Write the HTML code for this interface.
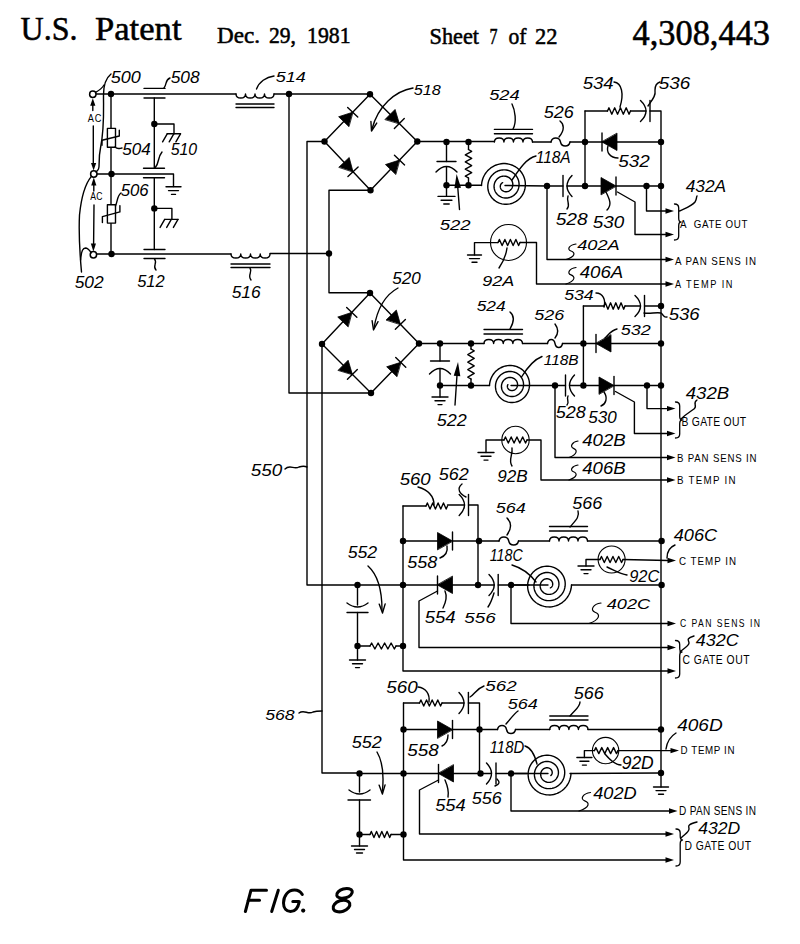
<!DOCTYPE html>
<html><head><meta charset="utf-8"><title>U.S. Patent 4,308,443 Sheet 7</title>
<style>html,body{margin:0;padding:0;background:#fff;}body{width:800px;height:944px;overflow:hidden;}svg{display:block;}</style>
</head><body>
<svg width="800" height="944" viewBox="0 0 800 944"><g fill="none" stroke="#000" stroke-width="1.4" stroke-linecap="round" stroke-linejoin="round"><path d="M96 94 L236 94"/>
<path d="M236 94 C236 99.4 245.5 99.4 245.5 94 C245.5 99.4 255 99.4 255 94 C255 99.4 264.5 99.4 264.5 94 C264.5 99.4 274 99.4 274 94"/>
<path d="M236 104 L274 104"/>
<path d="M236 107.5 L274 107.5"/>
<path d="M274 94 L370 94"/>
<circle cx="111" cy="94" r="3.2" fill="#000" stroke="none"/>
<circle cx="289" cy="94" r="3.2" fill="#000" stroke="none"/>
<path d="M97 174 L173.5 174 L173.5 186.5"/>
<path d="M166 186.8 L181 186.8"/>
<path d="M168.5 190.6 L178.5 190.6"/>
<path d="M171.5 194.4 L175.5 194.4"/>
<circle cx="111.5" cy="174" r="3.2" fill="#000" stroke="none"/>
<path d="M96.5 254 L231 254"/>
<path d="M231 254 C231 259.4 240.75 259.4 240.75 254 C240.75 259.4 250.5 259.4 250.5 254 C250.5 259.4 260.25 259.4 260.25 254 C260.25 259.4 270 259.4 270 254"/>
<path d="M231 264 L270 264"/>
<path d="M231 267.5 L270 267.5"/>
<path d="M270 253.5 L329 253.5"/>
<circle cx="111.5" cy="254" r="3.2" fill="#000" stroke="none"/>
<circle cx="329" cy="253.5" r="3.2" fill="#000" stroke="none"/>
<path d="M111 94 L111 254"/>
<rect x="107.4" y="128.4" width="8.1" height="18.8" fill="#fff"/>
<path d="M102 145.3 L102 140.3 L119.3 136 L119.3 130.3"/>
<rect x="107.4" y="204.7" width="8.1" height="18.4" fill="#fff"/>
<path d="M102.4 222.5 L102.4 216.6 L119.9 211.9 L119.9 205.6"/>
<path d="M144 88.4 L165 88.4"/>
<path d="M144 98 L165 98"/>
<path d="M154.3 98 L154.3 168.3"/>
<path d="M143.5 168.3 L164.5 168.3"/>
<path d="M143.5 177.8 L164.5 177.8"/>
<path d="M154.3 177.8 L154.3 249.5"/>
<path d="M144 249.5 L165 249.5"/>
<path d="M144 258.5 L165 258.5"/>
<circle cx="154.3" cy="124" r="3.2" fill="#000" stroke="none"/>
<path d="M154.3 124 L174 124 L174 133.8"/>
<path d="M167.2 133.8 L180.5 133.8"/>
<path d="M167.2 133.8 L162.6 141.8"/>
<path d="M173.8 133.8 L169.2 141.8"/>
<path d="M180.5 133.8 L175.9 141.8"/>
<circle cx="154.3" cy="208.4" r="3.2" fill="#000" stroke="none"/>
<path d="M154.3 208.4 L171.9 208.4 L171.9 219.4"/>
<path d="M164.7 219.4 L178 219.4"/>
<path d="M164.7 219.4 L160.1 227.4"/>
<path d="M171.3 219.4 L166.7 227.4"/>
<path d="M178 219.4 L173.4 227.4"/>
<circle cx="92.8" cy="94.3" r="3.2" fill="#fff" stroke-width="1.5"/>
<circle cx="93.8" cy="174" r="3.2" fill="#fff" stroke-width="1.5"/>
<circle cx="93.4" cy="254.7" r="3.2" fill="#fff" stroke-width="1.5"/>
<path d="M92.8 104 L92.8 110.5"/>
<path d="M93.3 126 L93.3 164"/>
<path d="M92.8 98.2 L90.2 105.7 L95.4 105.7 Z" fill="#000" stroke="none"/>
<path d="M93.6 170.6 L96.2 163.1 L91 163.1 Z" fill="#000" stroke="none"/>
<path d="M93.8 184 L93.8 191"/>
<path d="M94 205 L93.6 244"/>
<path d="M93.8 177.6 L91.2 185.6 L96.4 185.6 Z" fill="#000" stroke="none"/>
<path d="M93.4 251.6 L96 243.6 L90.8 243.6 Z" fill="#000" stroke="none"/>
<path d="M111 74 C106 78 103.5 84 103.5 95 C103.5 112 104.5 128 100.5 148 C98 160 100 166 98.5 169 C97.5 171 96.5 171.5 96 172"/>
<path d="M95.6 92.3 C99 90.5 102 88.5 104 85"/>
<path d="M91.2 176.6 C86 183 81.5 195 79.5 215 C78.5 235 79.5 250 81.5 272"/>
<path d="M80.6 260 C81.5 250 83 248.2 85.6 248 C88 248 90 251 91.3 252.8"/>
<path d="M164 88 C167 84 165 80 170 78"/>
<path d="M154.5 259 C158 263 152 266 156 270"/>
<path d="M256.5 89 C259 82 266 77 274 76"/>
<path d="M250 268 C253 272 247 275 251 280"/>
<path d="M115 147 C118 150 120 148 122 148"/>
<path d="M115.5 206 C118 200 117 196 121 193"/>
<path d="M155 168 C160 162 157 158 162 152"/>
<path d="M370 94.3 L324.5 141.5 L370.5 190.3 L417.3 141.5 L370 94.3"/>
<path d="M352.71 112.24 L338.65 116.74 L348.73 126.45 Z" fill="#000" stroke="#000" stroke-width="0.8"/>
<path d="M347.67 107.38 L357.75 117.09"/>
<path d="M353.02 171.76 L349.2 157.49 L339.01 167.1 Z" fill="#000" stroke="#000" stroke-width="0.8"/>
<path d="M358.11 166.95 L347.93 176.56"/>
<path d="M399.33 123.56 L395.07 109.43 L385.18 119.34 Z" fill="#000" stroke="#000" stroke-width="0.8"/>
<path d="M404.27 118.61 L394.38 128.52"/>
<path d="M399.52 160.04 L385.47 164.58 L395.57 174.27 Z" fill="#000" stroke="#000" stroke-width="0.8"/>
<path d="M394.46 155.2 L404.57 164.89"/>
<circle cx="370" cy="94.3" r="3.2" fill="#000" stroke="none"/>
<circle cx="324.5" cy="141.5" r="3.2" fill="#000" stroke="none"/>
<circle cx="417.3" cy="141.5" r="3.2" fill="#000" stroke="none"/>
<circle cx="370.5" cy="190.3" r="3.2" fill="#000" stroke="none"/>
<path d="M370 293 L322 344 L371 393 L419 343.5 L370 293"/>
<path d="M351.76 312.38 L337.75 317.05 L347.95 326.64 Z" fill="#000" stroke="#000" stroke-width="0.8"/>
<path d="M346.66 307.58 L356.86 317.18"/>
<path d="M352.38 374.38 L348.14 360.24 L338.24 370.14 Z" fill="#000" stroke="#000" stroke-width="0.8"/>
<path d="M357.33 369.43 L347.43 379.33"/>
<path d="M400.38 324.31 L396.35 310.11 L386.3 319.85 Z" fill="#000" stroke="#000" stroke-width="0.8"/>
<path d="M405.4 319.44 L395.36 329.18"/>
<path d="M400.76 362.31 L386.68 366.77 L396.74 376.52 Z" fill="#000" stroke="#000" stroke-width="0.8"/>
<path d="M395.73 357.44 L405.79 367.18"/>
<circle cx="370" cy="293" r="3.2" fill="#000" stroke="none"/>
<circle cx="322" cy="344" r="3.2" fill="#000" stroke="none"/>
<circle cx="419" cy="343.5" r="3.2" fill="#000" stroke="none"/>
<circle cx="371" cy="393" r="3.2" fill="#000" stroke="none"/>
<path d="M324.5 141.5 L307 141.5 L307 585 L357.5 585"/>
<path d="M370.5 190.3 L329 190.3 L329 292.8 L370 292.8"/>
<path d="M289 94 L289 393 L371 393"/>
<path d="M322 344 L322 773 L359.5 773"/>
<path d="M413 88 C395 91 378 106 372 129"/>
<path d="M376.73 123.08 L371.5 131 L370.93 121.53"/>
<path d="M398 288 C385 295 377 310 374 328"/>
<path d="M378.02 321.66 L373.5 330 L372.11 320.62"/>
<path d="M285 469 C290 464 294 470 299 467 C302 466 305 466 307 467"/>
<path d="M299 713 C304 709 308 715 313 712 C316 711 319 711 322 711"/>
<path d="M417.3 141.5 L494.4 141.5"/>
<path d="M494.4 142 C494.4 136.6 503.92 136.6 503.92 142 C503.92 136.6 513.45 136.6 513.45 142 C513.45 136.6 522.98 136.6 522.98 142 C522.98 136.6 532.5 136.6 532.5 142"/>
<path d="M494.4 129.4 L532.5 129.4"/>
<path d="M494.4 133.7 L532.5 133.7"/>
<path d="M532.5 142 L551 142"/>
<path d="M551 142 C552 136.68 559.5 136.68 560.5 142 C561.5 147.32 569 147.32 570 142"/>
<path d="M570 142 L585 142"/>
<path d="M585 142 L661 142"/>
<path d="M602 142 L617 150.5 L617 133.5 Z" fill="#000" stroke="#000" stroke-width="0.8"/>
<path d="M602 151 L602 133"/>
<circle cx="446.5" cy="142" r="3.2" fill="#000" stroke="none"/>
<circle cx="468.5" cy="142" r="3.2" fill="#000" stroke="none"/>
<circle cx="585" cy="142" r="3.2" fill="#000" stroke="none"/>
<circle cx="661" cy="142" r="3.2" fill="#000" stroke="none"/>
<path d="M446.5 142 L446.5 161.5"/>
<path d="M437 161.5 L456 161.5"/>
<path d="M436 172 Q446.5 161 457 172"/>
<path d="M446.5 167 L446.5 185.2"/>
<circle cx="446.5" cy="185.2" r="3.2" fill="#000" stroke="none"/>
<path d="M446.5 185.2 L446.5 196"/>
<path d="M438 196.4 L455 196.4"/>
<path d="M441.1 200.2 L451.9 200.2"/>
<path d="M443.8 204 L449.2 204"/>
<path d="M468.5 142 L468.5 149.5"/>
<path d="M468.5 149.5 L471.7 151.28 L465.3 154.84 L471.7 158.41 L465.3 161.97 L471.7 165.53 L465.3 169.09 L471.7 172.66 L465.3 176.22 L468.5 178"/>
<path d="M468.5 178 L468.5 185.2"/>
<circle cx="468.5" cy="185.2" r="3.2" fill="#000" stroke="none"/>
<path d="M459.5 209.5 L457.5 184"/>
<path d="M456.6 174 L454.41 188.22 L460.99 187.7 Z" fill="#000" stroke="none"/>
<path d="M446.5 185.2 L481.5 185.2"/>
<path d="M481.5 185.5 L481.68 183.46 L482.03 181.45 L482.55 179.49 L483.25 177.58 L484.1 175.75 L485.1 174.01 L486.25 172.37 L487.53 170.84 L488.94 169.44 L490.46 168.17 L492.07 167.04 L493.77 166.06 L495.55 165.23 L497.38 164.57 L499.26 164.07 L501.16 163.74 L503.08 163.57 L505 163.57 L506.9 163.75 L508.78 164.08 L510.61 164.58 L512.38 165.23 L514.08 166.03 L515.7 166.97 L517.22 168.04 L518.64 169.24 L519.95 170.55 L521.13 171.97 L522.17 173.48 L523.08 175.06 L523.84 176.71 L524.45 178.42 L524.91 180.17 L525.21 181.94 L525.36 183.72 L525.35 185.5 L525.19 187.27 L524.87 189 L524.4 190.7 L523.79 192.34 L523.05 193.92 L522.17 195.41 L521.17 196.82 L520.05 198.13 L518.83 199.33 L517.52 200.42 L516.12 201.38 L514.65 202.21 L513.12 202.91 L511.54 203.47 L509.93 203.89 L508.29 204.16 L506.64 204.29 L505 204.28 L503.37 204.12 L501.77 203.82 L500.21 203.38 L498.7 202.81 L497.25 202.12 L495.88 201.3 L494.58 200.38 L493.38 199.35 L492.28 198.22 L491.29 197.01 L490.41 195.72 L489.65 194.36 L489.01 192.95 L488.51 191.5 L488.13 190.02 L487.89 188.52 L487.78 187.01 L487.8 185.5 L487.95 184.01 L488.23 182.54 L488.64 181.12 L489.17 179.74 L489.81 178.42 L490.56 177.16 L491.41 175.99 L492.36 174.89 L493.39 173.89 L494.51 172.99 L495.69 172.2 L496.92 171.51 L498.21 170.94 L499.54 170.49 L500.89 170.15 L502.26 169.94 L503.63 169.85 L505 169.88 L506.35 170.02 L507.68 170.28 L508.98 170.66 L510.22 171.15 L511.42 171.74 L512.55 172.42 L513.61 173.2 L514.59 174.07 L515.49 175.01 L516.3 176.02 L517.01 177.09 L517.62 178.21 L518.13 179.38 L518.53 180.57 L518.82 181.8 L519.01 183.03 L519.08 184.27 L519.05 185.5 L518.91 186.72 L518.66 187.91 L518.32 189.07 L517.87 190.19 L517.34 191.25 L516.71 192.26 L516.01 193.21 L515.23 194.08 L514.38 194.88 L513.47 195.59 L512.51 196.22 L511.5 196.76 L510.46 197.2 L509.39 197.55 L508.3 197.8 L507.2 197.96 L506.09 198.01 L505 197.97 L503.92 197.84 L502.86 197.61 L501.84 197.3 L500.85 196.89 L499.91 196.41 L499.03 195.85 L498.2 195.22 L497.43 194.52 L496.74 193.76 L496.11 192.96 L495.57 192.1 L495.11 191.21 L494.72 190.29 L494.43 189.35 L494.22 188.39 L494.09 187.42 L494.05 186.46 L494.1 185.5 L494.23 184.56 L494.44 183.64 L494.72 182.75 L495.09 181.89 L495.52 181.08 L496.01 180.31 L496.57 179.6 L497.19 178.94 L497.85 178.35 L498.56 177.82 L499.3 177.36 L500.07 176.97 L500.87 176.65 L501.69 176.41 L502.52 176.24 L503.35 176.14 L504.18 176.12 L505 176.18 L505.81 176.3 L506.59 176.49 L507.35 176.75 L508.07 177.07 L508.76 177.45 L509.4 177.88 L510 178.36 L510.54 178.89 L511.04 179.46 L511.47 180.07 L511.85 180.7 L512.17 181.36 L512.42 182.04 L512.61 182.73 L512.74 183.43 L512.8 184.12 L512.81 184.82 L512.75 185.5 L512.63 186.17 L512.46 186.82 L512.23 187.44 L511.95 188.03 L511.63 188.59 L511.26 189.11 L510.85 189.59 L510.4 190.03 L509.92 190.42 L509.42 190.77 L508.89 191.06 L508.35 191.3 L507.79 191.49 L507.23 191.63 L506.67 191.72 L506.1 191.75 L505.55 191.74 L505 191.68 L504.47 191.56 L503.96 191.41 L503.47 191.21 L503.01 190.97 L502.58 190.7 L502.18 190.39 L501.81 190.06 L501.48 189.69 L501.19 189.31 L500.94 188.91 L500.73 188.49 L500.56 188.06 L500.43 187.63 L500.35 187.19 L500.3 186.76 L500.3 186.33 L500.33 185.91 L500.4 185.5 L500.5 185.11 L500.64 184.73 L500.81 184.38 L501.01 184.05 L501.23 183.74 L501.47 183.46 L501.73 183.21 L502.01 182.99 L502.3 182.8 L502.61 182.65"/>
<path d="M505 185.5 L547 186"/>
<circle cx="547" cy="186" r="3.2" fill="#000" stroke="none"/>
<path d="M547 186 L563 186"/>
<path d="M563 175.5 L563 196.5"/>
<path d="M572 175.5 Q562 186 572 196.5"/>
<path d="M567 186 L601 186"/>
<path d="M616 186 L601 177.5 L601 194.5 Z" fill="#000" stroke="#000" stroke-width="0.8"/>
<path d="M616 177 L616 195"/>
<path d="M616 186 L661 186"/>
<circle cx="585" cy="186" r="3.2" fill="#000" stroke="none"/>
<circle cx="646.5" cy="186" r="3.2" fill="#000" stroke="none"/>
<circle cx="661" cy="186" r="3.2" fill="#000" stroke="none"/>
<path d="M585 111 L585 186"/>
<path d="M585 111 L607.5 111"/>
<path d="M607.5 111 L608.94 107.8 L611.81 114.2 L614.69 107.8 L617.56 114.2 L620.44 107.8 L623.31 114.2 L626.19 107.8 L629.06 114.2 L630.5 111"/>
<path d="M630.5 111 L646 111"/>
<path d="M650 100.5 L650 121.5"/>
<path d="M640.5 100.5 Q651.5 111 640.5 121.5"/>
<path d="M650 111 L661 111 L661 773"/>
<path d="M617.5 192 L635 202 L635 234.5 L667 234.5"/>
<path d="M674 234.5 L665.5 231.8 L665.5 237.2 Z" fill="#000" stroke="none"/>
<path d="M646.5 186 L646.5 211 L667 211"/>
<path d="M674 211 L665.5 208.3 L665.5 213.7 Z" fill="#000" stroke="none"/>
<path d="M674.5 204 Q678.7 204 678.7 208 L678.7 218 Q678.7 222 681 222 Q678.7 222 678.7 226 L678.7 236 Q678.7 240 674.5 240" stroke-width="1.3"/>
<path d="M679.5 211 C686 208 692 206 695 202 C697 199 696 198 697 196"/>
<path d="M547 186 L547 259.5 L667 259.5"/>
<path d="M674 259.5 L665.5 256.8 L665.5 262.2 Z" fill="#000" stroke="none"/>
<circle cx="508.5" cy="242.5" r="18" fill="#fff" stroke-width="1.1"/>
<path d="M498 242.5 L499.38 239.5 L502.12 245.5 L504.88 239.5 L507.62 245.5 L510.38 239.5 L513.12 245.5 L515.88 239.5 L518.62 245.5 L520 242.5"/>
<path d="M498 242.6 L474.5 242.6 L474.5 255"/>
<path d="M467.5 255 L481.5 255"/>
<path d="M469.5 258.6 L479.5 258.6"/>
<path d="M472 262.2 L477 262.2"/>
<path d="M520 242.5 L536.5 242.5 L536.5 284 L667 284"/>
<path d="M674 284 L665.5 281.3 L665.5 286.7 Z" fill="#000" stroke="none"/>
<path d="M513 129 C517 122 515 110 512 104"/>
<path d="M559 137 C565 130 564 124 560 121"/>
<path d="M512 180 C520 168 527 158 536 156"/>
<path d="M614 82 C622 83 624 94 620 107"/>
<path d="M648 106 C652 100 656 96 655 90 C655 85 657 83 660 82"/>
<path d="M608 146 C606 152 610 158 618 158"/>
<path d="M606 192 C610 200 612 205 607 210"/>
<path d="M568 196 C566 202 571 204 567 209"/>
<path d="M566 259.5 C575.5 256.4 575.5 252.53 571 250.97 C566.5 249.43 569.5 244.78 576 244" stroke-width="1.2"/>
<path d="M566 284 C575.5 280.7 575.5 276.57 571 274.93 C566.5 273.27 569.5 268.32 576 267.5" stroke-width="1.2"/>
<path d="M499 268 C503 262 506 256 507 248"/>
<path d="M419 343.5 L484 343.5"/>
<path d="M484 343.5 C484 338.1 493.62 338.1 493.62 343.5 C493.62 338.1 503.25 338.1 503.25 343.5 C503.25 338.1 512.88 338.1 512.88 343.5 C512.88 338.1 522.5 338.1 522.5 343.5"/>
<path d="M484 329.5 L522.5 329.5"/>
<path d="M484 334 L522.5 334"/>
<path d="M522.5 343.5 L547.5 343.5"/>
<path d="M547.5 343.5 C548.5 338.18 554 338.18 555 343.5 C556 348.82 561.5 348.82 562.5 343.5"/>
<path d="M562.5 343.5 L661 343.5"/>
<path d="M596 343.5 L611 352 L611 335 Z" fill="#000" stroke="#000" stroke-width="0.8"/>
<path d="M596 352.5 L596 334.5"/>
<circle cx="440" cy="343.5" r="3.2" fill="#000" stroke="none"/>
<circle cx="471" cy="343.5" r="3.2" fill="#000" stroke="none"/>
<circle cx="583.4" cy="343.5" r="3.2" fill="#000" stroke="none"/>
<circle cx="661" cy="343.5" r="3.2" fill="#000" stroke="none"/>
<path d="M440 343.5 L440 361"/>
<path d="M430.5 361 L449.5 361"/>
<path d="M429.5 374 Q440 363 450.5 374"/>
<path d="M440 368.5 L440 385.5"/>
<circle cx="440" cy="385.5" r="3.2" fill="#000" stroke="none"/>
<path d="M440 385.5 L440 397"/>
<path d="M432 397 L448 397"/>
<path d="M435 400.8 L445 400.8"/>
<path d="M438 404.6 L442 404.6"/>
<path d="M471 343.5 L471 349"/>
<path d="M471 349 L474.2 350.88 L467.8 354.62 L474.2 358.38 L467.8 362.12 L474.2 365.88 L467.8 369.62 L474.2 373.38 L467.8 377.12 L471 379"/>
<path d="M471 379 L471 385.5"/>
<circle cx="471" cy="385.5" r="3.2" fill="#000" stroke="none"/>
<path d="M455 405 L457 375"/>
<path d="M458 362 L453.73 375.74 L460.32 376.2 Z" fill="#000" stroke="none"/>
<path d="M440 385.5 L489.5 385.5"/>
<path d="M489.5 385.5 L489.66 383.63 L489.99 381.8 L490.47 380 L491.11 378.26 L491.89 376.59 L492.81 375 L493.87 373.5 L495.04 372.11 L496.33 370.83 L497.72 369.67 L499.19 368.64 L500.75 367.75 L502.37 367 L504.05 366.39 L505.76 365.94 L507.5 365.64 L509.25 365.49 L511 365.5 L512.74 365.66 L514.44 365.97 L516.11 366.42 L517.73 367.02 L519.28 367.75 L520.75 368.61 L522.14 369.59 L523.43 370.69 L524.61 371.89 L525.68 373.18 L526.63 374.55 L527.45 376 L528.14 377.51 L528.7 379.06 L529.11 380.65 L529.38 382.26 L529.51 383.88 L529.5 385.5 L529.35 387.11 L529.05 388.68 L528.63 390.22 L528.07 391.71 L527.39 393.14 L526.59 394.5 L525.68 395.78 L524.66 396.96 L523.55 398.05 L522.36 399.03 L521.09 399.9 L519.75 400.66 L518.36 401.28 L516.93 401.79 L515.46 402.16 L513.98 402.41 L512.49 402.52 L511 402.5 L509.53 402.35 L508.08 402.08 L506.66 401.68 L505.3 401.16 L503.99 400.53 L502.75 399.79 L501.58 398.95 L500.5 398.01 L499.51 396.99 L498.62 395.89 L497.83 394.73 L497.14 393.5 L496.57 392.23 L496.12 390.92 L495.79 389.58 L495.57 388.22 L495.48 386.86 L495.5 385.5 L495.64 384.16 L495.9 382.84 L496.27 381.55 L496.75 380.31 L497.33 379.13 L498.01 378 L498.78 376.94 L499.64 375.97 L500.57 375.07 L501.57 374.26 L502.64 373.55 L503.75 372.94 L504.91 372.43 L506.1 372.03 L507.31 371.74 L508.54 371.55 L509.77 371.47 L511 371.5 L512.21 371.64 L513.4 371.88 L514.56 372.22 L515.67 372.66 L516.74 373.19 L517.75 373.81 L518.7 374.51 L519.57 375.29 L520.37 376.13 L521.09 377.04 L521.72 378 L522.26 379 L522.71 380.04 L523.06 381.11 L523.32 382.2 L523.47 383.3 L523.54 384.4 L523.5 385.5 L523.37 386.58 L523.15 387.64 L522.83 388.67 L522.43 389.66 L521.95 390.61 L521.39 391.5 L520.76 392.34 L520.06 393.11 L519.31 393.81 L518.5 394.44 L517.64 394.99 L516.75 395.46 L515.82 395.85 L514.88 396.15 L513.91 396.37 L512.94 396.5 L511.97 396.54 L511 396.5 L510.05 396.38 L509.12 396.17 L508.22 395.88 L507.35 395.52 L506.53 395.09 L505.75 394.59 L505.03 394.03 L504.36 393.42 L503.75 392.75 L503.21 392.04 L502.74 391.28 L502.34 390.5 L502.01 389.69 L501.76 388.86 L501.58 388.02 L501.48 387.18 L501.45 386.34 L501.5 385.5 L501.62 384.68 L501.81 383.88 L502.07 383.11 L502.39 382.36 L502.77 381.66 L503.21 381 L503.7 380.39 L504.23 379.82 L504.81 379.31 L505.43 378.86 L506.08 378.47 L506.75 378.14 L507.44 377.87 L508.15 377.67 L508.86 377.53 L509.58 377.46 L510.3 377.45 L511 377.5 L511.69 377.61 L512.36 377.79 L513.01 378.01 L513.62 378.3 L514.2 378.63 L514.75 379 L515.25 379.42 L515.71 379.88 L516.13 380.37 L516.49 380.89 L516.8 381.44 L517.06 382 L517.27 382.58 L517.42 383.16 L517.52 383.75 L517.57 384.34 L517.56 384.93 L517.5 385.5 L517.39 386.06 L517.24 386.6 L517.04 387.12 L516.79 387.61 L516.51 388.07 L516.2 388.5 L515.85 388.89 L515.47 389.25 L515.07 389.57 L514.64 389.84 L514.2 390.07 L513.75 390.26 L513.29 390.41 L512.82 390.51 L512.36 390.57 L511.9 390.59 L511.44 390.56 L511 390.5 L510.57 390.4 L510.16 390.26 L509.77 390.09 L509.4 389.89 L509.06 389.65 L508.75 389.4 L508.47 389.12 L508.21 388.82 L507.99 388.51 L507.81 388.18 L507.66 387.84 L507.54 387.5 L507.45 387.16 L507.4 386.81 L507.38 386.47 L507.39 386.14 L507.43 385.81 L507.5 385.5 L507.6 385.2 L507.72 384.92 L507.86 384.66"/>
<path d="M511 385.5 L555 385.5"/>
<circle cx="555" cy="385.5" r="3.2" fill="#000" stroke="none"/>
<path d="M555 385.5 L565.5 385.5"/>
<path d="M565.5 375 L565.5 396"/>
<path d="M574.5 375 Q564.5 385.5 574.5 396"/>
<path d="M569.5 385.5 L599 385.5"/>
<path d="M614 385.5 L599 377 L599 394 Z" fill="#000" stroke="#000" stroke-width="0.8"/>
<path d="M614 376.5 L614 394.5"/>
<path d="M614 385.5 L661 385.5"/>
<circle cx="583.4" cy="385.5" r="3.2" fill="#000" stroke="none"/>
<circle cx="647" cy="385.5" r="3.2" fill="#000" stroke="none"/>
<circle cx="661" cy="385.5" r="3.2" fill="#000" stroke="none"/>
<path d="M583.4 306 L583.4 385.5"/>
<path d="M583.4 306 L604 306"/>
<path d="M604 306 L605.31 302.8 L607.94 309.2 L610.56 302.8 L613.19 309.2 L615.81 302.8 L618.44 309.2 L621.06 302.8 L623.69 309.2 L625 306"/>
<path d="M625 306 L640.5 306"/>
<path d="M644.5 295.5 L644.5 316.5"/>
<path d="M635 295.5 Q646 306 635 316.5"/>
<path d="M644.5 306 L661 306"/>
<circle cx="661" cy="306" r="3.2" fill="#000" stroke="none"/>
<path d="M615.5 391.5 L634.4 402 L634.4 433.5 L668 433.5"/>
<path d="M675.5 433.5 L667 430.8 L667 436.2 Z" fill="#000" stroke="none"/>
<path d="M647 385.5 L647 408.6 L668 408.6"/>
<path d="M675.5 408.6 L667 405.9 L667 411.3 Z" fill="#000" stroke="none"/>
<path d="M675.5 402 Q679.7 402 679.7 406 L679.7 416 Q679.7 420 682 420 Q679.7 420 679.7 424 L679.7 434 Q679.7 438 675.5 438" stroke-width="1.3"/>
<path d="M681 419 C686 414 690 412 694 409 C698 406 692 403 697 400"/>
<path d="M555 385.5 L555 457.5 L668 457.5"/>
<path d="M675.5 457.5 L667 454.8 L667 460.2 Z" fill="#000" stroke="none"/>
<circle cx="515.5" cy="440" r="13.7" fill="#fff" stroke-width="1.1"/>
<path d="M504 440 L505.44 437 L508.31 443 L511.19 437 L514.06 443 L516.94 437 L519.81 443 L522.69 437 L525.56 443 L527 440"/>
<path d="M504 440 L486 440 L486 452.5"/>
<path d="M478 452.5 L494 452.5"/>
<path d="M481 456.3 L491 456.3"/>
<path d="M484 460.1 L488 460.1"/>
<path d="M527 440 L541 440 L541 480 L668 480"/>
<path d="M675.5 480 L667 477.3 L667 482.7 Z" fill="#000" stroke="none"/>
<path d="M510 329 C514 322 515 316 510 312"/>
<path d="M555 338 C559 333 558 328 555 324"/>
<path d="M596 293 C603 293 606 300 604 307"/>
<path d="M644 313 C650 314 656 312 661 313 C664 315 663 318 667 317"/>
<path d="M605 338 C610 333 612 330 617 329"/>
<path d="M521.5 377 C527 368 533 360 542 356.5"/>
<path d="M568 396 C566 400 570 402 567 405"/>
<path d="M604 392 C608 398 606 404 601 406"/>
<path d="M569 457.5 C577.55 454.2 577.55 450.07 573.5 448.43 C569.45 446.77 572.15 441.82 578 441" stroke-width="1.2"/>
<path d="M569 480 C577.55 477 577.55 473.25 573.5 471.75 C569.45 470.25 572.15 465.75 578 465" stroke-width="1.2"/>
<path d="M512 448 C513 455 508 460 512 466"/>
<circle cx="357.5" cy="585" r="3.2" fill="#000" stroke="none"/>
<circle cx="403" cy="585" r="3.2" fill="#000" stroke="none"/>
<path d="M357.5 585 L437.5 585"/>
<path d="M437.5 585 L452.5 593.5 L452.5 576.5 Z" fill="#000" stroke="#000" stroke-width="0.8"/>
<path d="M437.5 594 L437.5 576"/>
<path d="M437.5 585 L494.2 585"/>
<circle cx="478" cy="585" r="3.2" fill="#000" stroke="none"/>
<path d="M498.2 574.5 L498.2 595.5"/>
<path d="M489 574.5 Q499.4 585 489 595.5"/>
<path d="M498.2 585 L529 585"/>
<circle cx="511" cy="585" r="3.2" fill="#000" stroke="none"/>
<path d="M571.5 585 L571.32 587.04 L570.97 589.05 L570.45 591.01 L569.75 592.92 L568.9 594.75 L567.9 596.49 L566.75 598.13 L565.47 599.66 L564.06 601.06 L562.54 602.33 L560.93 603.46 L559.23 604.44 L557.45 605.27 L555.62 605.93 L553.74 606.43 L551.84 606.76 L549.92 606.93 L548 606.92 L546.1 606.75 L544.22 606.42 L542.39 605.92 L540.62 605.27 L538.92 604.47 L537.3 603.53 L535.78 602.46 L534.36 601.26 L533.05 599.95 L531.87 598.53 L530.83 597.02 L529.92 595.44 L529.16 593.79 L528.55 592.08 L528.09 590.33 L527.79 588.56 L527.64 586.78 L527.65 585 L527.81 583.23 L528.13 581.5 L528.6 579.8 L529.21 578.16 L529.95 576.58 L530.83 575.09 L531.83 573.68 L532.95 572.37 L534.17 571.17 L535.48 570.08 L536.88 569.12 L538.35 568.29 L539.88 567.59 L541.46 567.03 L543.07 566.61 L544.71 566.34 L546.36 566.21 L548 566.23 L549.63 566.38 L551.23 566.68 L552.79 567.12 L554.3 567.69 L555.75 568.38 L557.12 569.2 L558.42 570.12 L559.62 571.15 L560.72 572.28 L561.71 573.49 L562.59 574.78 L563.35 576.14 L563.99 577.55 L564.49 579 L564.87 580.48 L565.11 581.98 L565.22 583.49 L565.2 585 L565.05 586.49 L564.77 587.96 L564.36 589.38 L563.83 590.76 L563.19 592.08 L562.44 593.34 L561.59 594.51 L560.64 595.61 L559.61 596.61 L558.49 597.51 L557.31 598.3 L556.08 598.99 L554.79 599.56 L553.46 600.01 L552.11 600.35 L550.74 600.56 L549.37 600.65 L548 600.62 L546.65 600.48 L545.32 600.22 L544.02 599.84 L542.78 599.35 L541.58 598.76 L540.45 598.08 L539.39 597.3 L538.41 596.43 L537.51 595.49 L536.7 594.48 L535.99 593.41 L535.38 592.29 L534.87 591.12 L534.47 589.93 L534.18 588.7 L533.99 587.47 L533.92 586.23 L533.95 585 L534.09 583.78 L534.34 582.59 L534.68 581.43 L535.13 580.31 L535.66 579.25 L536.29 578.24 L536.99 577.29 L537.77 576.42 L538.62 575.62 L539.53 574.91 L540.49 574.28 L541.5 573.74 L542.54 573.3 L543.61 572.95 L544.7 572.7 L545.8 572.54 L546.91 572.49 L548 572.52 L549.08 572.66 L550.14 572.89 L551.16 573.2 L552.15 573.61 L553.09 574.09 L553.98 574.65 L554.8 575.28 L555.57 575.98 L556.26 576.74 L556.89 577.54 L557.43 578.4 L557.89 579.29 L558.28 580.21 L558.57 581.15 L558.78 582.11 L558.91 583.08 L558.95 584.04 L558.9 585 L558.77 585.94 L558.56 586.86 L558.28 587.75 L557.91 588.61 L557.48 589.42 L556.99 590.19 L556.43 590.9 L555.81 591.56 L555.15 592.15 L554.44 592.68 L553.7 593.14 L552.92 593.53 L552.13 593.85 L551.31 594.09 L550.48 594.26 L549.65 594.36 L548.82 594.38 L548 594.33 L547.19 594.2 L546.41 594.01 L545.65 593.75 L544.93 593.43 L544.24 593.05 L543.6 592.62 L543 592.14 L542.46 591.61 L541.96 591.04 L541.53 590.43 L541.15 589.8 L540.83 589.14 L540.58 588.46 L540.39 587.77 L540.26 587.07 L540.2 586.38 L540.19 585.68 L540.25 585 L540.37 584.33 L540.54 583.68 L540.77 583.06 L541.05 582.47 L541.37 581.91 L541.74 581.39 L542.15 580.91 L542.6 580.47 L543.08 580.08 L543.58 579.73 L544.11 579.44 L544.65 579.2 L545.21 579.01 L545.77 578.87 L546.33 578.78 L546.9 578.75 L547.45 578.76 L548 578.83 L548.53 578.94 L549.04 579.09 L549.53 579.29 L549.99 579.53 L550.42 579.8 L550.83 580.11 L551.19 580.44 L551.52 580.81 L551.81 581.19 L552.06 581.59 L552.27 582.01 L552.44 582.44 L552.57 582.87 L552.65 583.31 L552.7 583.74 L552.7 584.17 L552.67 584.59 L552.6 585 L552.5 585.39 L552.36 585.77 L552.19 586.12 L551.99 586.45 L551.77 586.76 L551.53 587.04 L551.27 587.29 L550.99 587.51 L550.7 587.7 L550.39 587.85"/>
<path d="M511 585 L548 585"/>
<path d="M571.5 585 L661.6 585"/>
<circle cx="661.6" cy="585" r="3.2" fill="#000" stroke="none"/>
<path d="M403 506 L403 671 L668 671"/>
<path d="M676 671 L667.5 668.3 L667.5 673.7 Z" fill="#000" stroke="none"/>
<path d="M403 506 L426 506"/>
<path d="M426 506 L427.34 503 L430.03 509 L432.72 503 L435.41 509 L438.09 503 L440.78 509 L443.47 503 L446.16 509 L447.5 506"/>
<path d="M447.5 505 L464.5 505"/>
<path d="M468.5 494.5 L468.5 515.5"/>
<path d="M459.2 494.5 Q469.8 505 459.2 515.5"/>
<path d="M468.5 505 L478 505 L478 585"/>
<circle cx="403" cy="541" r="3.2" fill="#000" stroke="none"/>
<circle cx="479" cy="541" r="3.2" fill="#000" stroke="none"/>
<path d="M403 541 L439 541"/>
<path d="M452.5 541 L437.5 532.5 L437.5 549.5 Z" fill="#000" stroke="#000" stroke-width="0.8"/>
<path d="M452.5 532 L452.5 550"/>
<path d="M452.5 541 L499 541"/>
<path d="M499 541 C500 535.68 507.75 535.68 508.75 541 C509.75 546.32 517.5 546.32 518.5 541"/>
<path d="M518.5 541 L549.5 541"/>
<path d="M549.5 541 C549.5 535.6 559 535.6 559 541 C559 535.6 568.5 535.6 568.5 541 C568.5 535.6 578 535.6 578 541 C578 535.6 587.5 535.6 587.5 541"/>
<path d="M549.5 526.5 L587.5 526.5"/>
<path d="M549.5 531 L587.5 531"/>
<path d="M587.5 541 L661.6 541"/>
<circle cx="661.6" cy="541" r="3.2" fill="#000" stroke="none"/>
<path d="M357.5 585 L357.5 605"/>
<path d="M347 603 Q357.5 611 368 603"/>
<path d="M347 612.5 L368 612.5"/>
<path d="M357.5 612.5 L357.5 646"/>
<circle cx="357.5" cy="646" r="3.2" fill="#000" stroke="none"/>
<path d="M357.5 646 L370 646"/>
<path d="M370 646 L371.62 643 L374.88 649 L378.12 643 L381.38 649 L384.62 643 L387.88 649 L391.12 643 L394.38 649 L396 646"/>
<path d="M396 646 L403 646"/>
<circle cx="403" cy="646" r="3.2" fill="#000" stroke="none"/>
<path d="M349.5 660 L365.5 660"/>
<path d="M352.5 663.8 L362.5 663.8"/>
<path d="M355.5 667.6 L359.5 667.6"/>
<path d="M357.5 646 L357.5 660"/>
<path d="M437.5 591 L419 601 L419 647.5 L668 647.5"/>
<path d="M676 647.5 L667.5 644.8 L667.5 650.2 Z" fill="#000" stroke="none"/>
<path d="M511 585 L511 623.5 L668 623.5"/>
<path d="M676 623.5 L667.5 620.8 L667.5 626.2 Z" fill="#000" stroke="none"/>
<circle cx="611.6" cy="559.5" r="13.5" fill="#fff" stroke-width="1.1"/>
<path d="M600 559.5 L601.44 556.5 L604.31 562.5 L607.19 556.5 L610.06 562.5 L612.94 556.5 L615.81 562.5 L618.69 556.5 L621.56 562.5 L623 559.5"/>
<path d="M600 559.5 L586 559.5 L586 566"/>
<path d="M578 566 L594 566"/>
<path d="M581 569.8 L591 569.8"/>
<path d="M584 573.6 L588 573.6"/>
<path d="M623 559.5 L668 560.5"/>
<path d="M676 560.5 L667.5 557.8 L667.5 563.2 Z" fill="#000" stroke="none"/>
<path d="M675.5 640.5 Q679.7 640.5 679.7 644.5 L679.7 648 Q679.7 652 682 652 Q679.7 652 679.7 656 L679.7 674 Q679.7 678 675.5 678" stroke-width="1.3"/>
<path d="M368 566 C378 575 382 590 382 610"/>
<path d="M385.18 603.9 L382.5 613 L379.19 604.11"/>
<path d="M418 487 C428 490 434 496 434 505"/>
<path d="M466 497 C460 494 456 489 462 484"/>
<path d="M507 535 C512 528 511 522 507 518"/>
<path d="M570 527 C575 521 580 517 578 511"/>
<path d="M447 546 C448 552 445 556 440 558"/>
<path d="M445 591 C448 598 445 604 443 608"/>
<path d="M494 593 C492 600 490 604 488 607"/>
<path d="M512 565 C522 568 530 574 536 582"/>
<path d="M607 567 C614 570 620 574 627 575"/>
<path d="M589 623.5 C600.4 619.4 600.4 614.27 595 612.23 C589.6 610.17 593.2 604.02 601 603" stroke-width="1.2"/>
<path d="M667 558 C667 551 670 547 675 545"/>
<path d="M680 652 C684 648 689 646 689 643 C689 640 685 639 694 636"/>
<circle cx="359.5" cy="773.5" r="3.2" fill="#000" stroke="none"/>
<circle cx="403.5" cy="773.5" r="3.2" fill="#000" stroke="none"/>
<path d="M359.5 773.5 L438.5 773.5"/>
<path d="M438.5 773.5 L453.5 782 L453.5 765 Z" fill="#000" stroke="#000" stroke-width="0.8"/>
<path d="M438.5 782.5 L438.5 764.5"/>
<path d="M438.5 773.5 L491.5 773.5"/>
<circle cx="480.5" cy="773.5" r="3.2" fill="#000" stroke="none"/>
<path d="M496 763 L496 784"/>
<path d="M486.5 763 Q496.5 773.5 486.5 784"/>
<path d="M496 773.5 L527 773.5"/>
<circle cx="511" cy="773.5" r="3.2" fill="#000" stroke="none"/>
<path d="M571 773.5 L570.83 775.5 L570.48 777.46 L569.96 779.38 L569.28 781.25 L568.45 783.04 L567.46 784.74 L566.34 786.34 L565.08 787.83 L563.71 789.21 L562.22 790.45 L560.64 791.55 L558.98 792.51 L557.24 793.31 L555.45 793.96 L553.61 794.45 L551.75 794.77 L549.87 794.93 L548 794.92 L546.14 794.76 L544.31 794.43 L542.52 793.94 L540.79 793.3 L539.13 792.52 L537.55 791.6 L536.06 790.55 L534.68 789.38 L533.41 788.09 L532.26 786.71 L531.24 785.24 L530.35 783.69 L529.61 782.07 L529.02 780.41 L528.57 778.71 L528.28 776.98 L528.14 775.24 L528.15 773.5 L528.31 771.78 L528.62 770.08 L529.08 768.43 L529.68 766.83 L530.41 765.3 L531.26 763.84 L532.24 762.47 L533.33 761.19 L534.52 760.02 L535.8 758.96 L537.17 758.03 L538.6 757.22 L540.09 756.54 L541.63 756 L543.2 755.59 L544.8 755.33 L546.4 755.21 L548 755.23 L549.59 755.38 L551.14 755.67 L552.66 756.1 L554.13 756.66 L555.54 757.33 L556.88 758.13 L558.13 759.03 L559.3 760.04 L560.37 761.13 L561.33 762.32 L562.18 763.57 L562.92 764.89 L563.53 766.26 L564.02 767.67 L564.38 769.11 L564.62 770.57 L564.72 772.04 L564.7 773.5 L564.55 774.95 L564.27 776.37 L563.88 777.75 L563.36 779.09 L562.74 780.37 L562.01 781.59 L561.18 782.73 L560.26 783.78 L559.25 784.75 L558.17 785.62 L557.03 786.39 L555.83 787.05 L554.58 787.6 L553.29 788.04 L551.98 788.36 L550.66 788.57 L549.33 788.65 L548 788.62 L546.69 788.48 L545.4 788.22 L544.15 787.86 L542.95 787.38 L541.79 786.81 L540.7 786.14 L539.68 785.39 L538.73 784.55 L537.86 783.64 L537.08 782.66 L536.4 781.62 L535.81 780.54 L535.32 779.41 L534.94 778.25 L534.66 777.07 L534.48 775.88 L534.41 774.69 L534.45 773.5 L534.59 772.33 L534.83 771.18 L535.17 770.06 L535.6 768.99 L536.12 767.96 L536.72 766.99 L537.4 766.08 L538.16 765.24 L538.98 764.48 L539.85 763.79 L540.78 763.19 L541.75 762.67 L542.75 762.25 L543.78 761.92 L544.83 761.68 L545.89 761.53 L546.95 761.48 L548 761.52 L549.04 761.66 L550.05 761.88 L551.03 762.19 L551.98 762.58 L552.88 763.04 L553.73 763.58 L554.52 764.19 L555.25 764.86 L555.91 765.59 L556.5 766.37 L557.02 767.18 L557.46 768.04 L557.82 768.92 L558.1 769.82 L558.3 770.74 L558.41 771.66 L558.45 772.59 L558.4 773.5 L558.27 774.4 L558.07 775.28 L557.79 776.12 L557.44 776.94 L557.03 777.71 L556.55 778.44 L556.02 779.11 L555.43 779.74 L554.8 780.3 L554.12 780.8 L553.41 781.23 L552.67 781.6 L551.91 781.89 L551.14 782.12 L550.35 782.28 L549.56 782.36 L548.78 782.38 L548 782.33 L547.24 782.2 L546.5 782.02 L545.78 781.77 L545.1 781.46 L544.46 781.1 L543.85 780.69 L543.29 780.23 L542.78 779.72 L542.32 779.18 L541.91 778.61 L541.56 778.01 L541.27 777.39 L541.03 776.75 L540.86 776.1 L540.74 775.44 L540.69 774.79 L540.69 774.14 L540.75 773.5 L540.86 772.88 L541.03 772.27 L541.25 771.69 L541.52 771.14 L541.83 770.62 L542.18 770.14 L542.56 769.69 L542.98 769.29 L543.43 768.93 L543.9 768.62 L544.39 768.35 L544.9 768.13 L545.42 767.96 L545.94 767.84 L546.46 767.76 L546.98 767.74 L547.5 767.76 L548 767.83 L548.49 767.93 L548.96 768.08 L549.4 768.27 L549.82 768.5 L550.21 768.75 L550.58 769.04 L550.9 769.35 L551.2 769.69 L551.46 770.04 L551.68 770.41 L551.86 770.8 L552.01 771.19 L552.11 771.58 L552.18 771.98 L552.21 772.37 L552.21 772.76 L552.17 773.14 L552.1 773.5 L552 773.85 L551.87 774.18 L551.71 774.49 L551.52 774.78 L551.32 775.05 L551.1 775.29 L550.86 775.5"/>
<path d="M511 773.5 L548 773.5"/>
<path d="M570 773.5 L661 773"/>
<circle cx="661" cy="773" r="3.2" fill="#000" stroke="none"/>
<path d="M403.5 703 L403.5 860 L667 860"/>
<path d="M674 860 L665.5 857.3 L665.5 862.7 Z" fill="#000" stroke="none"/>
<path d="M403.5 703 L419.5 703"/>
<path d="M419.5 703 L420.91 700 L423.72 706 L426.53 700 L429.34 706 L432.16 700 L434.97 706 L437.78 700 L440.59 706 L442 703"/>
<path d="M442 703 L464 703"/>
<path d="M468.4 692.5 L468.4 713.5"/>
<path d="M459 692.5 Q469 703 459 713.5"/>
<path d="M468.4 703 L479.5 703 L479.5 773.5"/>
<circle cx="403.5" cy="729.5" r="3.2" fill="#000" stroke="none"/>
<circle cx="479.5" cy="729.5" r="3.2" fill="#000" stroke="none"/>
<path d="M403.5 729.5 L437.5 729.5"/>
<path d="M452.5 729.5 L437.5 721 L437.5 738 Z" fill="#000" stroke="#000" stroke-width="0.8"/>
<path d="M452.5 720.5 L452.5 738.5"/>
<path d="M452.5 729.5 L497.5 729.5"/>
<path d="M497.5 729.5 C498.5 724.18 505.5 724.18 506.5 729.5 C507.5 734.82 514.5 734.82 515.5 729.5"/>
<path d="M515.5 729.5 L549.75 729.5"/>
<path d="M549.75 729.5 C549.75 724.1 559.31 724.1 559.31 729.5 C559.31 724.1 568.88 724.1 568.88 729.5 C568.88 724.1 578.44 724.1 578.44 729.5 C578.44 724.1 588 724.1 588 729.5"/>
<path d="M549.75 716 L588 716"/>
<path d="M549.75 720 L588 720"/>
<path d="M588 729.5 L661 729.5"/>
<circle cx="661" cy="729.5" r="3.2" fill="#000" stroke="none"/>
<path d="M359.5 773.5 L359.5 792"/>
<path d="M349 790 Q359.5 798 370 790"/>
<path d="M348 800 L370.5 800"/>
<path d="M359.5 800 L359.5 834.5"/>
<circle cx="359.5" cy="834.5" r="3.2" fill="#000" stroke="none"/>
<path d="M359.5 834.5 L370 834.5"/>
<path d="M370 834.5 L371.31 831.5 L373.94 837.5 L376.56 831.5 L379.19 837.5 L381.81 831.5 L384.44 837.5 L387.06 831.5 L389.69 837.5 L391 834.5"/>
<path d="M391 834.5 L403.5 834.5"/>
<circle cx="403.5" cy="834.5" r="3.2" fill="#000" stroke="none"/>
<path d="M359.5 834.5 L359.5 846"/>
<path d="M351.5 846 L367.5 846"/>
<path d="M354.5 849.5 L364.5 849.5"/>
<path d="M356.5 853 L362.5 853"/>
<path d="M438.5 780 L419.5 790 L419.5 834 L667 834"/>
<path d="M674 834 L665.5 831.3 L665.5 836.7 Z" fill="#000" stroke="none"/>
<path d="M511 773.5 L511 811 L670 811"/>
<path d="M677.5 811 L669 808.3 L669 813.7 Z" fill="#000" stroke="none"/>
<circle cx="605.6" cy="750.6" r="13.2" fill="#fff" stroke-width="1.1"/>
<path d="M594.4 750.6 L595.88 747.6 L598.82 753.6 L601.77 747.6 L604.73 753.6 L607.67 747.6 L610.62 753.6 L613.58 747.6 L616.52 753.6 L618 750.6"/>
<path d="M594.4 750.6 L584.4 750.6 L584.4 757.5"/>
<path d="M576.9 757.5 L591.9 757.5"/>
<path d="M579.9 761.3 L588.9 761.3"/>
<path d="M582.4 765.1 L586.4 765.1"/>
<path d="M618 750.6 L671 750.6"/>
<path d="M679 750.6 L670.5 747.9 L670.5 753.3 Z" fill="#000" stroke="none"/>
<path d="M661 773 L661 787"/>
<path d="M653.5 787 L668.5 787"/>
<path d="M656 790.6 L666 790.6"/>
<path d="M658.5 794.2 L663.5 794.2"/>
<path d="M676 829 Q680.2 829 680.2 833 L680.2 836 Q680.2 840 682.5 840 Q680.2 840 680.2 844 L680.2 862 Q680.2 866 676 866" stroke-width="1.3"/>
<path d="M377 752 C383 762 384 775 382.4 791"/>
<path d="M385.08 784.9 L382.4 794 L379.09 785.11"/>
<path d="M418 687 C426 688 430 694 429 702"/>
<path d="M470 697 C475 694 476 689 484 686"/>
<path d="M506 724 C511 718 515 713 518 711"/>
<path d="M570 716 C575 710 580 707 580 702"/>
<path d="M448 735 C448 741 446 744 442 746"/>
<path d="M445 780 C448 787 449 792 448 797"/>
<path d="M497 779 C500 782 500 784 495 786"/>
<path d="M525 746 C532 748 535 756 537 764"/>
<path d="M605 754 C610 760 615 765 621 765"/>
<path d="M579 811 C589.92 807.3 589.92 802.67 584.75 800.83 C579.58 798.98 583.02 793.42 590.5 792.5" stroke-width="1.2"/>
<path d="M666 749 C667 742 671 736 676 733"/>
<path d="M681 838 C685 834 689 832 689 829 C689 826 686 825 697 822"/>
<g stroke-width="3" stroke-linecap="round" stroke-linejoin="round">
<path d="M245.4 911.5 L251 890.2 L266.5 890.2"/>
<path d="M248.4 900.3 L259.5 900.3"/>
<path d="M271.7 911.5 L278.3 890.2"/>
<path d="M302.3 894.5 C300.5 891.5 297.5 890 294.5 890 C288 890 283.5 896 283.5 903 C283.5 908.5 286.5 911.5 290.5 911.5 C295 911.5 298 908.5 299.3 901.6 L292.8 901.6"/>
</g>
<circle cx="303.2" cy="910.6" r="2.1" fill="#000" stroke="none"/>
<ellipse cx="344.5" cy="893.4" rx="8" ry="4.6" transform="rotate(-16 344.5 893.4)" stroke-width="3.1"/>
<ellipse cx="341.5" cy="906" rx="8.6" ry="5.5" transform="rotate(-18 341.5 906)" stroke-width="3.1"/></g><g fill="#000" stroke="#000" stroke-width="0.45" font-family="Liberation Sans"><text x="20.5" y="40" font-size="34.5" stroke-width="0.55" font-family="Liberation Serif" textLength="57" lengthAdjust="spacingAndGlyphs">U.S.</text>
<text x="95" y="40" font-size="34.5" stroke-width="0.55" font-family="Liberation Serif" textLength="86.5" lengthAdjust="spacingAndGlyphs">Patent</text>
<text x="217" y="42.8" font-size="23.5" stroke-width="0.55" font-family="Liberation Serif" textLength="43" lengthAdjust="spacingAndGlyphs">Dec.</text>
<text x="269" y="42.8" font-size="23.5" stroke-width="0.55" font-family="Liberation Serif" textLength="27" lengthAdjust="spacingAndGlyphs">29,</text>
<text x="307" y="42.8" font-size="23.5" stroke-width="0.55" font-family="Liberation Serif" textLength="43.5" lengthAdjust="spacingAndGlyphs">1981</text>
<text x="429.5" y="44" font-size="23.8" stroke-width="0.55" font-family="Liberation Serif" textLength="49.5" lengthAdjust="spacingAndGlyphs">Sheet</text>
<text x="489.5" y="44" font-size="23.8" stroke-width="0.55" font-family="Liberation Serif" textLength="8" lengthAdjust="spacingAndGlyphs">7</text>
<text x="508.5" y="44" font-size="23.8" stroke-width="0.55" font-family="Liberation Serif" textLength="18" lengthAdjust="spacingAndGlyphs">of</text>
<text x="535" y="44" font-size="23.8" stroke-width="0.55" font-family="Liberation Serif" textLength="22.5" lengthAdjust="spacingAndGlyphs">22</text>
<text x="632.5" y="44.8" font-size="35" stroke-width="0.55" font-family="Liberation Serif" textLength="137.5" lengthAdjust="spacingAndGlyphs">4,308,443</text>
<text transform="translate(87.8 122) scale(0.84 1)" x="0" y="0" font-size="10.97" textLength="16.31" lengthAdjust="spacing" stroke-width="0">AC</text>
<text transform="translate(90.2 200.3) scale(0.84 1)" x="0" y="0" font-size="10.29" textLength="14.52" lengthAdjust="spacing" stroke-width="0">AC</text>
<text x="110.7" y="82.5" font-size="15.97" stroke-width="0" font-style="italic" textLength="30" lengthAdjust="spacingAndGlyphs">500</text>
<text x="170.7" y="82.5" font-size="15.97" stroke-width="0" font-style="italic" textLength="29" lengthAdjust="spacingAndGlyphs">508</text>
<text x="275.7" y="82" font-size="15.28" stroke-width="0" font-style="italic" textLength="30" lengthAdjust="spacingAndGlyphs">514</text>
<text x="122.2" y="154.5" font-size="16.67" stroke-width="0" font-style="italic" textLength="28.5" lengthAdjust="spacingAndGlyphs">504</text>
<text x="170.7" y="155" font-size="17.36" stroke-width="0" font-style="italic" textLength="26.5" lengthAdjust="spacingAndGlyphs">510</text>
<text x="120.7" y="195.5" font-size="15.97" stroke-width="0" font-style="italic" textLength="28" lengthAdjust="spacingAndGlyphs">506</text>
<text x="74.7" y="287.5" font-size="17.36" stroke-width="0" font-style="italic" textLength="29" lengthAdjust="spacingAndGlyphs">502</text>
<text x="137.2" y="287" font-size="16.67" stroke-width="0" font-style="italic" textLength="27.5" lengthAdjust="spacingAndGlyphs">512</text>
<text x="231.7" y="297.5" font-size="15.97" stroke-width="0" font-style="italic" textLength="29" lengthAdjust="spacingAndGlyphs">516</text>
<text x="413.7" y="95" font-size="15.28" stroke-width="0" font-style="italic" textLength="27" lengthAdjust="spacingAndGlyphs">518</text>
<text x="392.2" y="284" font-size="15.97" stroke-width="0" font-style="italic" textLength="28.5" lengthAdjust="spacingAndGlyphs">520</text>
<text x="250.7" y="476" font-size="16.67" stroke-width="0" font-style="italic" textLength="31.5" lengthAdjust="spacingAndGlyphs">550</text>
<text x="265.2" y="720" font-size="15.28" stroke-width="0" font-style="italic" textLength="29.5" lengthAdjust="spacingAndGlyphs">568</text>
<text transform="translate(680 227.5) scale(0.84 1)" x="0" y="0" font-size="11.66" textLength="80.36" lengthAdjust="spacing" stroke-width="0">A&#160;&#160;GATE OUT</text>
<text x="685.7" y="192" font-size="16.67" stroke-width="0" font-style="italic" textLength="40.5" lengthAdjust="spacingAndGlyphs">432A</text>
<text transform="translate(675 264.5) scale(0.84 1)" x="0" y="0" font-size="11.66" textLength="96.43" lengthAdjust="spacing" stroke-width="0">A PAN SENS IN</text>
<text transform="translate(675 287.5) scale(0.84 1)" x="0" y="0" font-size="10.97" textLength="68.45" lengthAdjust="spacing" stroke-width="0">A TEMP IN</text>
<text x="489.2" y="100" font-size="15.28" stroke-width="0" font-style="italic" textLength="30.5" lengthAdjust="spacingAndGlyphs">524</text>
<text x="543.7" y="117.5" font-size="15.97" stroke-width="0" font-style="italic" textLength="30" lengthAdjust="spacingAndGlyphs">526</text>
<text x="535.7" y="162.5" font-size="15.97" stroke-width="0" font-style="italic" textLength="35" lengthAdjust="spacingAndGlyphs">118A</text>
<text x="582.7" y="88.5" font-size="16.67" stroke-width="0" font-style="italic" textLength="31" lengthAdjust="spacingAndGlyphs">534</text>
<text x="658.7" y="88.5" font-size="16.67" stroke-width="0" font-style="italic" textLength="31.5" lengthAdjust="spacingAndGlyphs">536</text>
<text x="618.2" y="166.6" font-size="16.67" stroke-width="0" font-style="italic" textLength="31.5" lengthAdjust="spacingAndGlyphs">532</text>
<text x="592.7" y="228" font-size="16.67" stroke-width="0" font-style="italic" textLength="31.5" lengthAdjust="spacingAndGlyphs">530</text>
<text x="555.7" y="224.5" font-size="16.67" stroke-width="0" font-style="italic" textLength="32" lengthAdjust="spacingAndGlyphs">528</text>
<text x="439.7" y="230" font-size="15.28" stroke-width="0" font-style="italic" textLength="31" lengthAdjust="spacingAndGlyphs">522</text>
<text x="577.2" y="250" font-size="15.28" stroke-width="0" font-style="italic" textLength="42.5" lengthAdjust="spacingAndGlyphs">402A</text>
<text x="579.7" y="277.5" font-size="17.36" stroke-width="0" font-style="italic" textLength="43.5" lengthAdjust="spacingAndGlyphs">406A</text>
<text x="482.2" y="286" font-size="15.28" stroke-width="0" font-style="italic" textLength="32" lengthAdjust="spacingAndGlyphs">92A</text>
<text transform="translate(681.5 426) scale(0.84 1)" x="0" y="0" font-size="12.35" textLength="76.79" lengthAdjust="spacing" stroke-width="0">B GATE OUT</text>
<text x="685.7" y="399" font-size="16.67" stroke-width="0" font-style="italic" textLength="43.5" lengthAdjust="spacingAndGlyphs">432B</text>
<text transform="translate(677 462) scale(0.84 1)" x="0" y="0" font-size="11.52" textLength="94.64" lengthAdjust="spacing" stroke-width="0">B PAN SENS IN</text>
<text transform="translate(677 483.5) scale(0.84 1)" x="0" y="0" font-size="11.66" textLength="69.64" lengthAdjust="spacing" stroke-width="0">B TEMP IN</text>
<text x="476.7" y="311" font-size="15.28" stroke-width="0" font-style="italic" textLength="29" lengthAdjust="spacingAndGlyphs">524</text>
<text x="534.2" y="320" font-size="15.28" stroke-width="0" font-style="italic" textLength="30" lengthAdjust="spacingAndGlyphs">526</text>
<text x="564.2" y="300" font-size="15.28" stroke-width="0" font-style="italic" textLength="29.5" lengthAdjust="spacingAndGlyphs">534</text>
<text x="668.7" y="319.5" font-size="16.67" stroke-width="0" font-style="italic" textLength="31" lengthAdjust="spacingAndGlyphs">536</text>
<text x="620.7" y="335" font-size="15.28" stroke-width="0" font-style="italic" textLength="30" lengthAdjust="spacingAndGlyphs">532</text>
<text x="543.7" y="364.5" font-size="14.58" stroke-width="0" font-style="italic" textLength="35" lengthAdjust="spacingAndGlyphs">118B</text>
<text x="436.7" y="426" font-size="16.67" stroke-width="0" font-style="italic" textLength="30" lengthAdjust="spacingAndGlyphs">522</text>
<text x="555.7" y="418" font-size="16.67" stroke-width="0" font-style="italic" textLength="30" lengthAdjust="spacingAndGlyphs">528</text>
<text x="588.2" y="423" font-size="16.67" stroke-width="0" font-style="italic" textLength="28.5" lengthAdjust="spacingAndGlyphs">530</text>
<text x="582.2" y="445.5" font-size="16.67" stroke-width="0" font-style="italic" textLength="43.5" lengthAdjust="spacingAndGlyphs">402B</text>
<text x="582.2" y="474" font-size="16.67" stroke-width="0" font-style="italic" textLength="43.5" lengthAdjust="spacingAndGlyphs">406B</text>
<text x="497.2" y="482" font-size="16.67" stroke-width="0" font-style="italic" textLength="30.5" lengthAdjust="spacingAndGlyphs">92B</text>
<text transform="translate(682.5 664) scale(0.84 1)" x="0" y="0" font-size="12.35" textLength="79.76" lengthAdjust="spacing" stroke-width="0">C GATE OUT</text>
<text transform="translate(679 564.5) scale(0.84 1)" x="0" y="0" font-size="11.66" textLength="67.86" lengthAdjust="spacing" stroke-width="0">C TEMP IN</text>
<text transform="translate(680 627) scale(0.84 1)" x="0" y="0" font-size="10.29" textLength="95.24" lengthAdjust="spacing" stroke-width="0">C PAN SENS IN</text>
<text x="399.7" y="485" font-size="17.36" stroke-width="0" font-style="italic" textLength="31" lengthAdjust="spacingAndGlyphs">560</text>
<text x="438.7" y="480" font-size="16.67" stroke-width="0" font-style="italic" textLength="30" lengthAdjust="spacingAndGlyphs">562</text>
<text x="495.7" y="513" font-size="14.58" stroke-width="0" font-style="italic" textLength="30" lengthAdjust="spacingAndGlyphs">564</text>
<text x="572.2" y="509.4" font-size="15.83" stroke-width="0" font-style="italic" textLength="30" lengthAdjust="spacingAndGlyphs">566</text>
<text x="347.7" y="558" font-size="16.67" stroke-width="0" font-style="italic" textLength="29.5" lengthAdjust="spacingAndGlyphs">552</text>
<text x="407.2" y="567.5" font-size="15.97" stroke-width="0" font-style="italic" textLength="30" lengthAdjust="spacingAndGlyphs">558</text>
<text x="424.7" y="622.5" font-size="15.97" stroke-width="0" font-style="italic" textLength="31" lengthAdjust="spacingAndGlyphs">554</text>
<text x="464.2" y="622.5" font-size="14.58" stroke-width="0" font-style="italic" textLength="31.5" lengthAdjust="spacingAndGlyphs">556</text>
<text x="489.7" y="561" font-size="16.67" stroke-width="0" font-style="italic" textLength="33" lengthAdjust="spacingAndGlyphs">118C</text>
<text x="629.2" y="582" font-size="16.67" stroke-width="0" font-style="italic" textLength="30.1" lengthAdjust="spacingAndGlyphs">92C</text>
<text x="606.7" y="609" font-size="14.58" stroke-width="0" font-style="italic" textLength="43.5" lengthAdjust="spacingAndGlyphs">402C</text>
<text x="673.7" y="541" font-size="16.67" stroke-width="0" font-style="italic" textLength="43.5" lengthAdjust="spacingAndGlyphs">406C</text>
<text x="695.7" y="646" font-size="16.67" stroke-width="0" font-style="italic" textLength="43" lengthAdjust="spacingAndGlyphs">432C</text>
<text transform="translate(684.5 850) scale(0.84 1)" x="0" y="0" font-size="12.35" textLength="79.17" lengthAdjust="spacing" stroke-width="0">D GATE OUT</text>
<text transform="translate(680.5 754) scale(0.84 1)" x="0" y="0" font-size="11.66" textLength="64.29" lengthAdjust="spacing" stroke-width="0">D TEMP IN</text>
<text transform="translate(679 814.75) scale(0.84 1)" x="0" y="0" font-size="12" textLength="91.67" lengthAdjust="spacing" stroke-width="0">D PAN SENS IN</text>
<text x="386.2" y="692.5" font-size="16.67" stroke-width="0" font-style="italic" textLength="31.5" lengthAdjust="spacingAndGlyphs">560</text>
<text x="485.3" y="691" font-size="14.58" stroke-width="0" font-style="italic" textLength="31.4" lengthAdjust="spacingAndGlyphs">562</text>
<text x="507.7" y="709" font-size="14.58" stroke-width="0" font-style="italic" textLength="30" lengthAdjust="spacingAndGlyphs">564</text>
<text x="573.7" y="699" font-size="16.67" stroke-width="0" font-style="italic" textLength="30" lengthAdjust="spacingAndGlyphs">566</text>
<text x="407.2" y="755.5" font-size="16.67" stroke-width="0" font-style="italic" textLength="31.5" lengthAdjust="spacingAndGlyphs">558</text>
<text x="435.2" y="811" font-size="16.67" stroke-width="0" font-style="italic" textLength="30.5" lengthAdjust="spacingAndGlyphs">554</text>
<text x="471.7" y="803.5" font-size="16.67" stroke-width="0" font-style="italic" textLength="30" lengthAdjust="spacingAndGlyphs">556</text>
<text x="489.7" y="752.5" font-size="16.67" stroke-width="0" font-style="italic" textLength="34.5" lengthAdjust="spacingAndGlyphs">118D</text>
<text x="351.7" y="748" font-size="16.67" stroke-width="0" font-style="italic" textLength="30" lengthAdjust="spacingAndGlyphs">552</text>
<text x="621.7" y="769" font-size="18.06" stroke-width="0" font-style="italic" textLength="32" lengthAdjust="spacingAndGlyphs">92D</text>
<text x="593.2" y="799" font-size="17.01" stroke-width="0" font-style="italic" textLength="43.5" lengthAdjust="spacingAndGlyphs">402D</text>
<text x="677.2" y="730.75" font-size="17.01" stroke-width="0" font-style="italic" textLength="45.5" lengthAdjust="spacingAndGlyphs">406D</text>
<text x="698.2" y="834" font-size="17.01" stroke-width="0" font-style="italic" textLength="42" lengthAdjust="spacingAndGlyphs">432D</text></g></svg>
</body></html>
